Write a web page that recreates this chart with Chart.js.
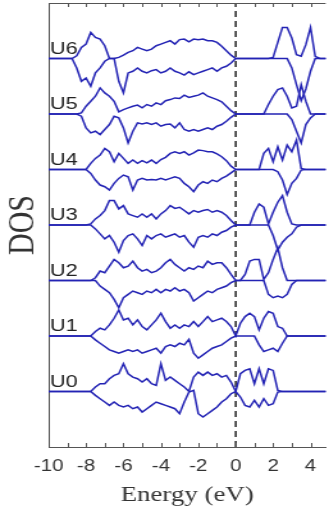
<!DOCTYPE html>
<html>
<head>
<meta charset="utf-8">
<script src="https://cdn.jsdelivr.net/npm/chart.js@4"></script>
<style>
  html, body { margin: 0; padding: 0; background: #fff; overflow: hidden; }
  #wrap { width: 257px; height: 516px; transform: scaleX(1.2802); transform-origin: 0 0; }
</style>
</head>
<body>
<div id="wrap"><canvas id="dos" width="257" height="516"></canvas></div>
<script>
// energy grid (eV)
const energy = [
  -10, -9.75, -9.5, -9.25, -9, -8.75, -8.5, -8.25, -8, -7.75,
  -7.5, -7.25, -7, -6.75, -6.5, -6.25, -6, -5.75, -5.5, -5.25,
  -5, -4.75, -4.5, -4.25, -4, -3.75, -3.5, -3.25, -3, -2.75,
  -2.5, -2.25, -2, -1.75, -1.5, -1.25, -1, -0.75, -0.5, -0.25,
  0, 0.25, 0.5, 0.75, 1, 1.25, 1.5, 1.75, 2, 2.25,
  2.5, 2.75, 3, 3.25, 3.5, 3.75, 4, 4.25, 4.5, 4.75, 5
];

const seriesLabels = ['U0', 'U1', 'U2', 'U3', 'U4', 'U5', 'U6'];
const xTickValues = [-10, -9, -8, -7, -6, -5, -4, -3, -2, -1, 0, 1, 2, 3, 4];
const fermiLevel = 0;

// spin up / spin down DOS, one pair per panel
const u6Up = [0, 0, 0, 0, 0, 0,
  0.05, 0.2, 0.26, 0.47, 0.38, 0.35, 0.23, 0, 0, 0.02, 0.06, 0.11, 0.14, 0.2,
  0.17, 0.14, 0.17, 0.23, 0.26, 0.29, 0.32, 0.26, 0.34, 0.35, 0.3, 0.35, 0.34, 0.35,
  0.32, 0.32, 0.29, 0.22, 0.14, 0.06, 0,
  0, 0, 0, 0, 0, 0, 0, 0.02, 0.29, 0.56, 0.56, 0.37, 0.07, 0.04, 0.25, 0.56, 0.04, 0, 0, 0];
const u6Down = [0, 0, 0, 0, 0, 0,
  -0.17, -0.41, -0.35, -0.5, -0.26, -0.17, -0.05, 0, 0, -0.41, -0.62, -0.26, -0.23, -0.17,
  -0.23, -0.26, -0.22, -0.2, -0.26, -0.23, -0.17, -0.23, -0.26, -0.3, -0.24, -0.29, -0.26, -0.23,
  -0.2, -0.17, -0.23, -0.17, -0.14, -0.08, 0,
  0, 0, 0, 0, 0, 0, 0, 0, 0, 0, 0, -0.17, -0.47, -0.76, -0.55, -0.23, 0, 0, 0, 0];

const u5Up = [0, 0, 0, 0, 0, 0,
  0, 0.02, 0.14, 0.23, 0.32, 0.47, 0.38, 0.32, 0.23, 0.04, 0.08, 0.11, 0.14, 0.16,
  0.11, 0.17, 0.14, 0.2, 0.17, 0.24, 0.26, 0.29, 0.28, 0.34, 0.3, 0.32, 0.34, 0.38,
  0.32, 0.29, 0.26, 0.22, 0.14, 0.06, 0,
  0, 0, 0, 0, 0, 0, 0.17, 0.32, 0.44, 0.47, 0.32, 0.11, 0.14, 0.53, 0.23, 0, 0, 0, 0, 0];
const u5Down = [0, 0, 0, 0, 0, 0,
  0, -0.04, -0.25, -0.34, -0.31, -0.37, -0.28, -0.19, -0.04, -0.07, -0.25, -0.52, -0.31, -0.16,
  -0.18, -0.16, -0.19, -0.16, -0.22, -0.19, -0.18, -0.25, -0.16, -0.28, -0.31, -0.28, -0.31, -0.28,
  -0.25, -0.28, -0.22, -0.19, -0.13, -0.06, 0,
  0, 0, 0, 0, 0, 0, 0, 0, 0, 0, 0, -0.1, -0.31, -0.52, -0.19, -0.07, 0, 0, 0, 0];

const u4Up = [0, 0, 0, 0, 0, 0, 0, 0,
  0, 0.11, 0.2, 0.26, 0.38, 0.32, 0.14, 0.29, 0.2, 0.11, 0.17, 0.11,
  0.16, 0.12, 0.17, 0.11, 0.18, 0.22, 0.29, 0.32, 0.29, 0.32, 0.26, 0.3, 0.35, 0.34,
  0.32, 0.32, 0.28, 0.23, 0.16, 0.06, 0,
  0, 0, 0, 0, 0, 0.29, 0.38, 0.14, 0.41, 0.17, 0.44, 0.32, 0.53, 0.02, 0, 0, 0, 0, 0, 0];
const u4Down = [0, 0, 0, 0, 0, 0, 0, 0,
  0, -0.07, -0.19, -0.28, -0.31, -0.37, -0.25, -0.16, -0.1, -0.13, -0.37, -0.19,
  -0.16, -0.19, -0.18, -0.19, -0.16, -0.19, -0.16, -0.13, -0.16, -0.25, -0.31, -0.4, -0.28, -0.22,
  -0.25, -0.19, -0.22, -0.16, -0.12, -0.06, 0,
  0, 0, 0, 0, 0, 0, 0, 0, -0.04, -0.19, -0.45, -0.25, -0.16, -0.01, 0, 0, 0, 0, 0, 0];

const u3Up = [0, 0, 0, 0, 0, 0, 0, 0, 0,
  0.02, 0.11, 0.17, 0.26, 0.44, 0.44, 0.29, 0.35, 0.2, 0.17, 0.14,
  0.2, 0.14, 0.2, 0.11, 0.2, 0.26, 0.35, 0.3, 0.32, 0.26, 0.2, 0.26, 0.23, 0.26,
  0.28, 0.23, 0.26, 0.23, 0.17, 0.08, 0,
  0, 0, 0, 0.23, 0.38, 0.32, 0.02, 0.23, 0.41, 0.53, 0.23, 0.02, 0, 0, 0, 0, 0, 0, 0, 0];
const u3Down = [0, 0, 0, 0, 0, 0, 0, 0, 0, 0,
  -0.07, -0.16, -0.25, -0.19, -0.31, -0.49, -0.28, -0.19, -0.16, -0.25,
  -0.37, -0.19, -0.25, -0.19, -0.16, -0.22, -0.19, -0.16, -0.22, -0.19, -0.31, -0.4, -0.22, -0.19,
  -0.22, -0.16, -0.19, -0.13, -0.1, -0.04, 0,
  0, 0, 0, 0, 0, 0, 0, -0.19, -0.45, -0.31, -0.22, -0.16, -0.04, 0, 0, 0, 0, 0, 0, 0];

const u2Up = [0, 0, 0, 0, 0, 0, 0, 0, 0,
  0, 0.05, 0.17, 0.14, 0.26, 0.38, 0.32, 0.23, 0.26, 0.35, 0.23,
  0.17, 0.2, 0.14, 0.17, 0.23, 0.32, 0.38, 0.29, 0.23, 0.17, 0.23, 0.2, 0.26, 0.23,
  0.35, 0.29, 0.32, 0.32, 0.23, 0.11, 0,
  0, 0.11, 0.35, 0.38, 0.38, 0.02, 0.14, 0.38, 0.59, 0.23, 0, 0, 0, 0, 0, 0, 0, 0, 0, 0];
const u2Down = [0, 0, 0, 0, 0, 0, 0, 0, 0, 0,
  0, -0.1, -0.16, -0.22, -0.34, -0.49, -0.31, -0.25, -0.19, -0.22,
  -0.25, -0.19, -0.22, -0.16, -0.22, -0.16, -0.19, -0.13, -0.19, -0.16, -0.22, -0.37, -0.31, -0.25,
  -0.19, -0.22, -0.16, -0.13, -0.1, -0.04, 0,
  0, 0, 0, 0, 0, 0, -0.25, -0.31, -0.28, -0.31, -0.25, -0.07, 0, 0, 0, 0, 0, 0, 0, 0];

const u1Up = [0, 0, 0, 0, 0, 0, 0, 0, 0,
  0, 0.08, 0.14, 0.11, 0.2, 0.32, 0.47, 0.29, 0.32, 0.2, 0.29,
  0.17, 0.11, 0.2, 0.29, 0.41, 0.26, 0.14, 0.2, 0.14, 0.2, 0.17, 0.26, 0.17, 0.26,
  0.35, 0.26, 0.29, 0.32, 0.26, 0.17, 0,
  0.23, 0.35, 0.41, 0.35, 0.11, 0.32, 0.44, 0.41, 0.17, 0.14, 0, 0, 0, 0, 0, 0, 0, 0, 0, 0];
const u1Down = [0, 0, 0, 0, 0, 0, 0, 0, 0, 0,
  -0.07, -0.13, -0.19, -0.25, -0.28, -0.31, -0.28, -0.25, -0.28, -0.25,
  -0.31, -0.28, -0.25, -0.22, -0.31, -0.19, -0.16, -0.19, -0.13, -0.16, -0.06, -0.31, -0.4, -0.34,
  -0.28, -0.22, -0.19, -0.16, -0.1, -0.04, 0,
  0, 0, 0, 0, -0.16, -0.28, -0.25, -0.22, -0.28, -0.13, 0, 0, 0, 0, 0, 0, 0, 0, 0, 0];

const u0Up = [0, 0, 0, 0, 0, 0, 0, 0, 0,
  0, 0.08, 0.14, 0.14, 0.23, 0.29, 0.32, 0.5, 0.32, 0.26, 0.23,
  0.17, 0.23, 0.14, 0.11, 0.5, 0.2, 0.26, 0.2, 0.14, 0.08, 0, 0.26, 0.35, 0.29,
  0.35, 0.29, 0.32, 0.26, 0.29, 0.17, 0,
  0.32, 0.38, 0.41, 0.14, 0.41, 0.14, 0.41, 0.38, 0.02, 0, 0, 0, 0, 0, 0, 0, 0, 0, 0, 0];
const u0Down = [0, 0, 0, 0, 0, 0, 0, 0, 0, 0,
  -0.07, -0.13, -0.19, -0.25, -0.19, -0.25, -0.28, -0.25, -0.31, -0.28,
  -0.37, -0.31, -0.25, -0.19, -0.22, -0.25, -0.28, -0.31, -0.4, -0.19, -0.01, 0.02, -0.4, -0.46,
  -0.4, -0.34, -0.28, -0.19, -0.13, -0.04, 0,
  -0.1, -0.25, -0.28, -0.16, -0.28, -0.13, -0.25, -0.22, -0.01, 0, 0, 0, 0, 0, 0, 0, 0, 0, 0, 0];

const upSeries = [u0Up, u1Up, u2Up, u3Up, u4Up, u5Up, u6Up];
const downSeries = [u0Down, u1Down, u2Down, u3Down, u4Down, u5Down, u6Down];

const lineColor = '#2323b4';
const datasets = [];

// each panel k sits on baseline y = k
seriesLabels.forEach((name, k) => {
    [upSeries[k], downSeries[k]].forEach((vals, j) => {
        datasets.push({
            label: name + (j === 0 ? ' up' : ' down'),
            data: energy.map((e, i) => ({ x: e, y: k + vals[i] })),
            borderColor: lineColor,
            borderWidth: 1.5,
            pointRadius: 0,
            tension: 0,
            fill: false
        });
    });
});

// Fermi level marker
datasets.push({
    label: 'EF',
    data: [{ x: fermiLevel, y: -1 }, { x: fermiLevel, y: 7 }],
    borderColor: '#222',
    borderWidth: 1.5,
    borderDash: [6, 4],
    pointRadius: 0
});

const frameColor = '#555';

const framePlugin = {
    id: 'frame',
    afterDatasetsDraw(chart) {
        const { ctx, chartArea: { top, bottom, left, right }, scales: { x, y } } = chart;
        ctx.save();
        ctx.strokeStyle = frameColor;
        ctx.lineWidth = 1;
        ctx.beginPath();
        ctx.moveTo(left, top + 0.5);
        ctx.lineTo(right, top + 0.5);
        // inward ticks top and bottom
        xTickValues.forEach(v => {
            const px = Math.round(x.getPixelForValue(v)) + 0.5;
            ctx.moveTo(px, top);
            ctx.lineTo(px, top + 4);
            ctx.moveTo(px, bottom);
            ctx.lineTo(px, bottom - 4);
        });
        ctx.stroke();

        // panel labels
        ctx.fillStyle = '#222';
        ctx.font = '17px "Liberation Sans", Arial, sans-serif';
        ctx.textBaseline = 'alphabetic';
        ctx.textAlign = 'left';
        seriesLabels.forEach((name, k) => {
            ctx.fillText(name, x.getPixelForValue(-10) + 1, y.getPixelForValue(k) - 5);
        });
        ctx.restore();
    }
};

new Chart(document.getElementById('dos'), {
    type: 'line',
    data: { datasets: datasets },
    plugins: [framePlugin],
    options: {
        responsive: false,
        animation: false,
        devicePixelRatio: 1,
        layout: { padding: { top: 3, right: 0, left: 0, bottom: 0 } },
        plugins: {
            legend: { display: false },
            tooltip: { enabled: false }
        },
        scales: {
            x: {
                type: 'linear',
                min: -10,
                max: 4.81,
                afterBuildTicks: (scale) => {
                    scale.ticks = xTickValues.map(v => ({ value: v }));
                },
                afterFit: (scale) => { scale.height = 69; },
                grid: { display: false, drawTicks: false },
                border: { display: true, color: frameColor, width: 1 },
                ticks: {
                    padding: 10,
                    autoSkip: false,
                    maxRotation: 0,
                    color: '#333',
                    font: { family: '"Liberation Sans", Arial, sans-serif', size: 16 },
                    callback: (v) => (v % 2 === 0 ? String(v) : '')
                },
                title: {
                    display: true,
                    text: 'Energy (eV)',
                    color: '#333',
                    padding: { top: 0, bottom: 8 },
                    font: { family: '"Liberation Serif", "Times New Roman", serif', size: 21 }
                }
            },
            y: {
                type: 'linear',
                min: -1,
                max: 7,
                afterFit: (scale) => { scale.width = 38; },
                grid: { display: false, drawTicks: false },
                border: { display: true, color: frameColor, width: 1 },
                ticks: { display: false },
                title: {
                    display: true,
                    text: 'DOS',
                    color: '#333',
                    padding: { top: 0, bottom: 0 },
                    font: { family: '"Liberation Serif", "Times New Roman", serif', size: 30 }
                }
            }
        }
    }
});
</script>
</body>
</html>
